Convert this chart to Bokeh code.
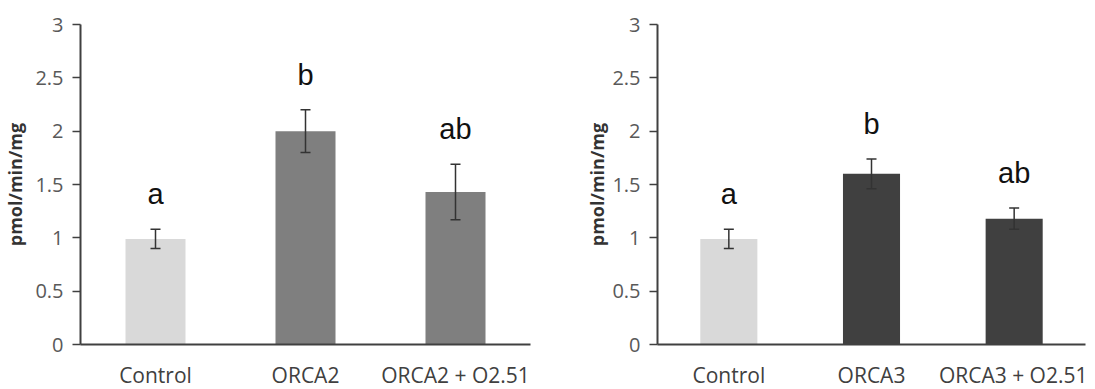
from bokeh.plotting import figure
from bokeh.layouts import row
from bokeh.models import ColumnDataSource, Whisker, TeeHead, FixedTicker
from bokeh.core.properties import value
from bokeh.embed import file_html
from bokeh.resources import INLINE

# ---- data ----
cats_left = ["Control", "ORCA2", "ORCA2 + O2.51"]
means_left = [0.99, 2.00, 1.43]
errs_left = [0.09, 0.20, 0.26]
letters_left = ["a", "b", "ab"]

cats_right = ["Control", "ORCA3", "ORCA3 + O2.51"]
means_right = [0.99, 1.60, 1.18]
errs_right = [0.09, 0.14, 0.10]
letters_right = ["a", "b", "ab"]

colors_left = ["#d9d9d9", "#7f7f7f", "#7f7f7f"]
colors_right = ["#d9d9d9", "#404040", "#404040"]

y_ticks = [0, 0.5, 1, 1.5, 2, 2.5, 3]
y_tick_labels = ["0", "0.5", "1", "1.5", "2", "2.5", "3"]
y_label = "pmol/min/mg"

LETTER_PAD = 0.33  # data units above the upper whisker
TICK_FONT = "Open Sans"


def make_panel(cats, means, errs, letters, colors, border_left, frame_w,
               border_right, label_standoff):
    src = ColumnDataSource(dict(
        x=cats, top=means, color=colors,
        upper=[m + e for m, e in zip(means, errs)],
        lower=[m - e for m, e in zip(means, errs)],
        ly=[m + e + LETTER_PAD for m, e in zip(means, errs)],
        letter=letters,
    ))
    p = figure(x_range=cats, y_range=(0, 3), output_backend="svg",
               toolbar_location=None, frame_width=frame_w, frame_height=320,
               min_border_left=border_left, min_border_right=border_right,
               min_border_top=24, min_border_bottom=36)
    p.vbar(x="x", top="top", width=0.4, fill_color="color", line_color=None,
           source=src)
    w = Whisker(base="x", upper="upper", lower="lower", source=src,
                line_color="#333333", line_width=1.5, level="annotation",
                upper_head=TeeHead(size=10, line_color="#333333", line_width=1.5),
                lower_head=TeeHead(size=10, line_color="#333333", line_width=1.5))
    p.add_layout(w)
    p.text(x="x", y="ly", text="letter", source=src,
           text_font=value("Liberation Sans"), text_font_size="29px",
           text_align="center", text_baseline="middle", text_color="#111111")

    p.outline_line_color = None
    p.xgrid.grid_line_color = None
    p.ygrid.grid_line_color = None
    p.background_fill_color = "white"
    p.border_fill_color = "white"

    p.yaxis.ticker = FixedTicker(ticks=y_ticks)
    p.yaxis.major_label_overrides = {t: l for t, l in zip(y_ticks, y_tick_labels)}
    p.yaxis.minor_tick_line_color = None
    p.yaxis.major_tick_in = 0
    p.yaxis.major_tick_out = 8
    p.yaxis.major_tick_line_color = "#404040"
    p.yaxis.major_tick_line_width = 1.5
    p.yaxis.axis_line_color = "#404040"
    p.yaxis.axis_line_width = 2
    p.yaxis.major_label_standoff = 9
    p.yaxis.major_label_text_font = TICK_FONT
    p.yaxis.major_label_text_font_size = "20px"
    p.yaxis.major_label_text_color = "#595959"
    p.yaxis.axis_label = y_label
    p.yaxis.axis_label_text_font = TICK_FONT
    p.yaxis.axis_label_text_font_style = "bold"
    p.yaxis.axis_label_text_font_size = "18px"
    p.yaxis.axis_label_text_color = "#333333"
    p.yaxis.axis_label_standoff = label_standoff

    p.xaxis.axis_line_color = "#404040"
    p.xaxis.axis_line_width = 2
    p.xaxis.major_tick_line_color = None
    p.xaxis.minor_tick_line_color = None
    p.xaxis.major_label_standoff = 10
    p.xaxis.major_label_text_font = TICK_FONT
    p.xaxis.major_label_text_font_size = "21px"
    p.xaxis.major_label_text_color = "#404040"
    return p


p1 = make_panel(cats_left, means_left, errs_left, letters_left, colors_left,
                72, 450, 20, 5)
p2 = make_panel(cats_right, means_right, errs_right, letters_right, colors_right,
                107, 428, 2, 0)

layout = row(p1, p2)
open("out.html", "w").write(file_html(layout, INLINE))
